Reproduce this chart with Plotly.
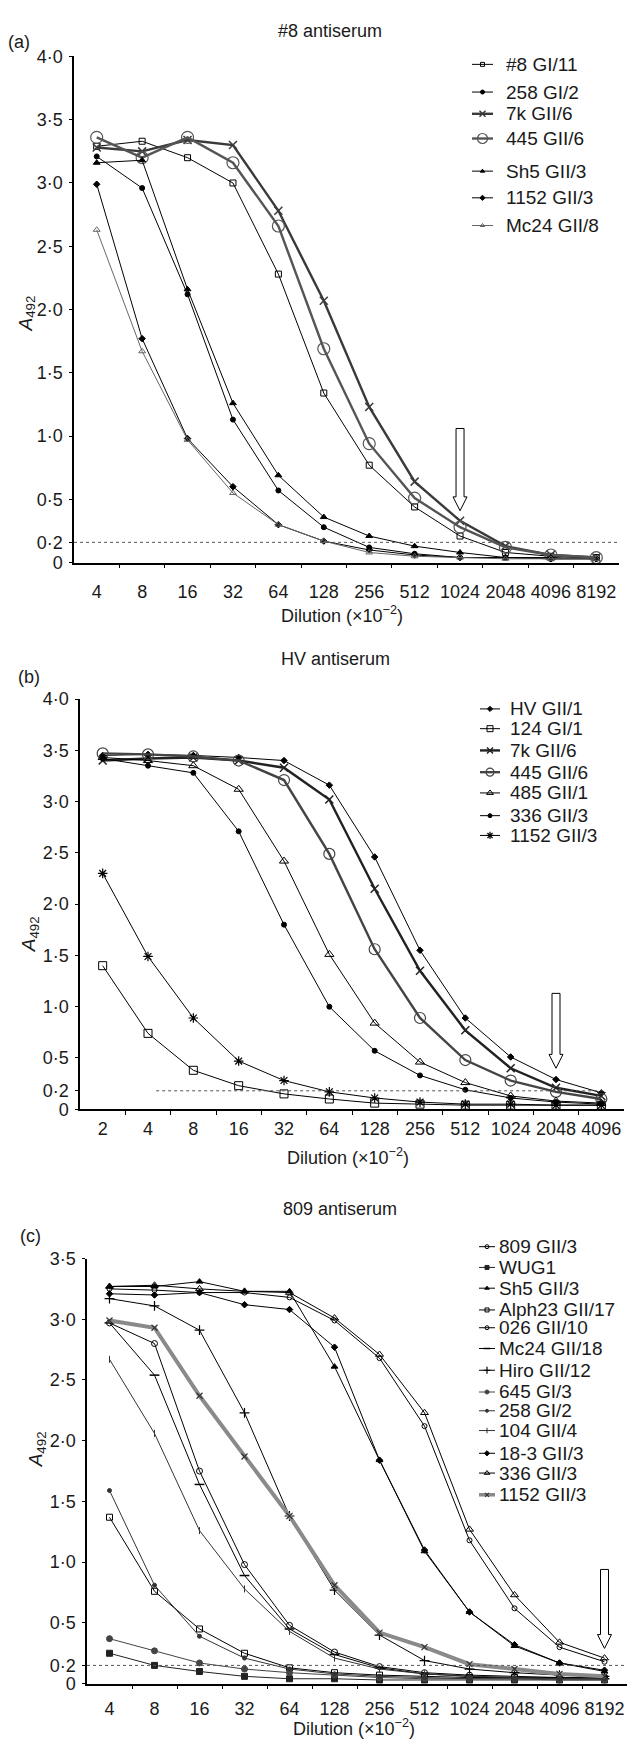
import numpy as np
import plotly.graph_objects as go

W, H = 628, 1747
FONT = "Liberation Sans, Arial, Helvetica, sans-serif"

# ---------------- data ----------------
# (a) #8 antiserum
dil_a = ["4", "8", "16", "32", "64", "128", "256", "512", "1024", "2048", "4096", "8192"]
a_8_GI11 = [3.29, 3.33, 3.20, 3.00, 2.28, 1.34, 0.77, 0.44, 0.21, 0.08, 0.05, 0.04]
a_258_GI2 = [3.21, 2.96, 2.12, 1.13, 0.57, 0.28, 0.12, 0.07, 0.04, 0.04, 0.03, 0.03]
a_7k_GII6 = [3.28, 3.25, 3.34, 3.30, 2.78, 2.07, 1.23, 0.64, 0.33, 0.13, 0.06, 0.04]
a_445_GII6 = [3.36, 3.20, 3.36, 3.16, 2.66, 1.69, 0.94, 0.51, 0.28, 0.12, 0.06, 0.04]
a_Sh5_GII3 = [3.16, 3.18, 2.16, 1.26, 0.69, 0.36, 0.21, 0.13, 0.08, 0.04, 0.04, 0.03]
a_1152_GII3 = [2.99, 1.77, 0.98, 0.60, 0.30, 0.17, 0.10, 0.06, 0.04, 0.04, 0.03, 0.03]
a_Mc24_GII8 = [2.63, 1.67, 0.97, 0.55, 0.30, 0.17, 0.08, 0.05, 0.04, 0.03, 0.03, 0.03]
a_names = ["#8 GI/11", "258 GI/2", "7k GII/6", "445 GII/6", "Sh5 GII/3", "1152 GII/3", "Mc24 GII/8"]
a_values = [a_8_GI11, a_258_GI2, a_7k_GII6, a_445_GII6, a_Sh5_GII3, a_1152_GII3, a_Mc24_GII8]

# (b) HV antiserum
dil_b = ["2", "4", "8", "16", "32", "64", "128", "256", "512", "1024", "2048", "4096"]
b_HV_GII1 = [3.45, 3.46, 3.45, 3.43, 3.40, 3.16, 2.46, 1.55, 0.89, 0.51, 0.29, 0.16]
b_124_GI1 = [1.40, 0.74, 0.38, 0.23, 0.15, 0.10, 0.06, 0.05, 0.04, 0.04, 0.04, 0.04]
b_7k_GII6 = [3.40, 3.42, 3.43, 3.40, 3.33, 3.02, 2.15, 1.35, 0.77, 0.40, 0.21, 0.13]
b_445_GII6 = [3.47, 3.46, 3.44, 3.40, 3.21, 2.49, 1.56, 0.89, 0.48, 0.28, 0.17, 0.10]
b_485_GII1 = [3.43, 3.40, 3.35, 3.12, 2.42, 1.51, 0.84, 0.46, 0.26, 0.13, 0.08, 0.06]
b_336_GII3 = [3.42, 3.35, 3.28, 2.71, 1.80, 1.00, 0.57, 0.33, 0.19, 0.11, 0.07, 0.05]
b_1152_GII3 = [2.30, 1.49, 0.89, 0.47, 0.28, 0.17, 0.11, 0.07, 0.05, 0.05, 0.04, 0.04]
b_names = ["HV GII/1", "124 GI/1", "7k GII/6", "445 GII/6", "485 GII/1", "336 GII/3", "1152 GII/3"]
b_values = [b_HV_GII1, b_124_GI1, b_7k_GII6, b_445_GII6, b_485_GII1, b_336_GII3, b_1152_GII3]

# (c) 809 antiserum
dil_c = ["4", "8", "16", "32", "64", "128", "256", "512", "1024", "2048", "4096", "8192"]
c_809_GII3 = [3.25, 3.24, 3.22, 3.22, 3.18, 2.99, 2.68, 2.12, 1.18, 0.62, 0.30, 0.18]
c_WUG1 = [0.25, 0.15, 0.10, 0.06, 0.04, 0.04, 0.03, 0.03, 0.03, 0.03, 0.03, 0.03]
c_Sh5_GII3 = [3.27, 3.27, 3.31, 3.23, 3.23, 2.61, 1.84, 1.09, 0.59, 0.31, 0.17, 0.10]
c_Alph23_GII17 = [1.37, 0.76, 0.45, 0.25, 0.13, 0.09, 0.07, 0.06, 0.05, 0.05, 0.04, 0.04]
c_026_GII10 = [2.97, 2.80, 1.75, 0.98, 0.48, 0.26, 0.14, 0.09, 0.07, 0.06, 0.05, 0.05]
c_Mc24_GII18 = [2.97, 2.54, 1.64, 0.89, 0.45, 0.24, 0.13, 0.08, 0.06, 0.05, 0.05, 0.04]
c_Hiro_GII12 = [3.17, 3.11, 2.91, 2.23, 1.38, 0.77, 0.40, 0.19, 0.12, 0.09, 0.07, 0.06]
c_645_GI3 = [0.37, 0.27, 0.17, 0.12, 0.09, 0.07, 0.05, 0.04, 0.04, 0.04, 0.03, 0.03]
c_258_GI2 = [1.59, 0.81, 0.39, 0.21, 0.12, 0.08, 0.06, 0.05, 0.04, 0.04, 0.04, 0.04]
c_104_GII4 = [2.67, 2.06, 1.26, 0.78, 0.43, 0.21, 0.12, 0.08, 0.06, 0.05, 0.04, 0.04]
c_18_3_GII3 = [3.21, 3.20, 3.22, 3.12, 3.08, 2.77, 1.84, 1.10, 0.59, 0.32, 0.17, 0.11]
c_336_GII3 = [3.27, 3.28, 3.25, 3.23, 3.22, 3.01, 2.71, 2.23, 1.27, 0.73, 0.34, 0.21]
c_1152_GII3 = [2.99, 2.93, 2.37, 1.87, 1.38, 0.81, 0.42, 0.30, 0.16, 0.12, 0.08, 0.06]
c_names = ["809 GII/3", "WUG1", "Sh5 GII/3", "Alph23 GII/17", "026 GII/10", "Mc24 GII/18",
           "Hiro GII/12", "645 GI/3", "258 GI/2", "104 GII/4", "18-3 GII/3", "336 GII/3", "1152 GII/3"]
c_values = [c_809_GII3, c_WUG1, c_Sh5_GII3, c_Alph23_GII17, c_026_GII10, c_Mc24_GII18,
            c_Hiro_GII12, c_645_GI3, c_258_GI2, c_104_GII4, c_18_3_GII3, c_336_GII3, c_1152_GII3]

# cut-off (as drawn) and end-point arrows: (dilution label, top value, tip value)
cutoff_a, cutoff_b, cutoff_c = 0.16, 0.18, 0.15
arrow_a = ("1024", 1.06, 0.41)
arrow_b = ("2048", 1.13, 0.40)
arrow_c = ("8192", 0.94, 0.29)

# ---------------- styles ----------------
def st(symbol=None, size=6, color="black", width=1.0, dash="solid", mcolor=None, mlw=1.0, lsize=None):
    return dict(symbol=symbol, size=size, color=color, width=width, dash=dash,
                mcolor=mcolor or color, mlw=mlw, lsize=lsize or max(3, round(size * 0.75)))

a_styles = [st("square-open", 6), st("circle", 5), st("x-thin-open", 8, "#3a3a3a", 2.4, mlw=1.5),
            st("circle-open", 12, "#555555", 2.4, mlw=1.2, lsize=10), st("triangle-up", 6), st("diamond", 5),
            st("triangle-up-open", 6, "#666666", 1.0)]
b_styles = [st("diamond", 5), st("square-open", 8), st("x-thin-open", 8, "#222222", 2.4, mlw=1.5),
            st("circle-open", 11, "#444444", 2.4, mlw=1.2, lsize=8), st("triangle-up-open", 8), st("circle", 5),
            st("asterisk-open", 8, mlw=1.2)]
c_styles = [st("circle-open", 5), st("square", 6, "#222222"), st("triangle-up", 6),
            st("square-open", 6), st("circle-open", 6), st("line-ew-open", 7, mlw=1.5),
            st("cross-thin-open", 7, mlw=1.2), st("circle", 6, "#444444"), st("circle", 4, "#333333"),
            st("line-ns-open", 5, "#333333", 1.0, mlw=1.0), st("diamond", 5), st("triangle-up-open", 7),
            st("x-thin-open", 6, "#8a8a8a", 4.0, mcolor="#333333", mlw=1.2)]

# ---------------- layout geometry (pixels) ----------------
panels = [
    dict(ax="", labels=dil_a, names=a_names, values=a_values, styles=a_styles,
         x0=74, x1=619, yzero=559, ytop=47, ymax=4.0, cutoff=cutoff_a, cut_span=(-0.5, 11.5),
         arrow=arrow_a, title="#8 antiserum", title_xy=(330, 21), tag="(a)", tag_xy=(19, 32),
         xlab_xy=(342, 612), ylab_xy=(27, 307), standoff=12,
         leg=dict(x0=472, x1=493, tx=504, fs=19, ys=[55, 83, 105, 130, 163, 190, 218])),
    dict(ax="2", labels=dil_b, names=b_names, values=b_values, styles=b_styles,
         x0=80, x1=624, yzero=1112, ytop=697, ymax=4.0, cutoff=cutoff_b, cut_span=(1.18, 11.06),
         arrow=arrow_b, title="HV antiserum", title_xy=(335, 657), tag="(b)", tag_xy=(29, 675),
         xlab_xy=(348, 1160), ylab_xy=(30, 935), standoff=2,
         leg=dict(x0=480, x1=500, tx=508, fs=19, ys=[707, 727, 749, 771, 792, 815, 835])),
    dict(ax="3", labels=dil_c, names=c_names, values=c_values, styles=c_styles,
         x0=87, x1=627, yzero=1693, ytop=1263, ymax=3.5, cutoff=cutoff_c, cut_span=(-0.5, 11.5),
         arrow=arrow_c, title="809 antiserum", title_xy=(340, 1213), tag="(c)", tag_xy=(30, 1240),
         xlab_xy=(354, 1737), ylab_xy=(37, 1456), standoff=8,
         leg=dict(x0=479, x1=495, tx=497, fs=19, ys=[1251, 1272, 1293, 1315, 1333, 1354, 1376, 1398,
                                                     1417, 1437, 1460, 1480, 1502])),
]

def px(x):
    return x / W

def py(y):
    return 1 - y / H

fig = go.Figure()
annotations = []
shapes = []
layout_axes = {}
TXT = dict(family=FONT, size=18, color="#1a1a1a")

for p in panels:
    xa, ya = "x" + p["ax"], "y" + p["ax"]
    n = len(p["labels"])
    idx = np.arange(n)
    for name, vals, s in zip(p["names"], p["values"], p["styles"]):
        fig.add_trace(go.Scatter(
            x=idx, y=vals, name=name, mode="lines+markers", xaxis=xa, yaxis=ya, showlegend=False,
            line=dict(color=s["color"], width=s["width"], dash=s["dash"]),
            marker=dict(symbol=s["symbol"], size=s["size"], color=s["mcolor"],
                        line=dict(color=s["mcolor"], width=s["mlw"])),
            cliponaxis=False))

    yticks = [0, p["cutoff"]] + list(np.arange(0.5, p["ymax"] + 0.01, 0.5))
    ytext = ["0", "0·2"] + [f"{v:.1f}".replace(".", "·") for v in yticks[2:]]
    key = p["ax"]
    layout_axes["xaxis" + key] = dict(
        domain=[px(p["x0"]), px(p["x1"])], range=[-0.5, n - 0.5], anchor=ya,
        tickmode="array", tickvals=idx, ticktext=p["labels"], ticks="",
        showline=True, linecolor="black", linewidth=1.5, showgrid=False, zeroline=False,
        ticklabelstandoff=p["standoff"],
        minor=dict(tickmode="array", tickvals=list(idx[:-1] + 0.5), ticks="outside",
                   ticklen=4, tickcolor="black", tickwidth=1, showgrid=False),
        tickfont=TXT, fixedrange=True)
    layout_axes["yaxis" + key] = dict(
        domain=[py(p["yzero"]), py(p["ytop"])], range=[0, p["ymax"]], anchor=xa,
        tickmode="array", tickvals=yticks, ticktext=ytext, ticks="outside", ticklen=3,
        tickcolor="black", showline=True, linecolor="black", linewidth=1.5,
        showgrid=False, zeroline=False, ticklabelstandoff=3,
        tickfont=TXT, fixedrange=True)

    # dotted cut-off line
    shapes.append(dict(type="line", xref=xa, yref=ya, x0=p["cut_span"][0], x1=p["cut_span"][1],
                       y0=p["cutoff"], y1=p["cutoff"], line=dict(color="#555555", width=1, dash="dot")))

    # hollow down arrow marking the end-point
    lab, ytop_v, ytip_v = p["arrow"]
    xc = p["labels"].index(lab)
    ux = (p["x1"] - p["x0"]) / n
    uy = (p["yzero"] - p["ytop"]) / p["ymax"]
    sw, hw, hl = 4 / ux, 7 / ux, 14 / uy
    neck = ytip_v + hl
    path = (f"M {xc - sw} {ytop_v} L {xc + sw} {ytop_v} L {xc + sw} {neck} L {xc + hw} {neck} "
            f"L {xc} {ytip_v} L {xc - hw} {neck} L {xc - sw} {neck} Z")
    shapes.append(dict(type="path", xref=xa, yref=ya, path=path, fillcolor="white",
                       line=dict(color="black", width=1)))

    # texts
    for text, (tx, ty), kw in [
        (p["title"], p["title_xy"], {}),
        (p["tag"], p["tag_xy"], {}),
        ("Dilution (×10<sup>−2</sup>)", p["xlab_xy"], {}),
        ("<i>A</i><sub>492</sub>", p["ylab_xy"], dict(textangle=-90)),
    ]:
        annotations.append(dict(text=text, x=px(tx), y=py(ty), xref="paper", yref="paper",
                                showarrow=False, xanchor="center", yanchor="middle",
                                font=dict(family=FONT, size=19 if kw else 18, color="#1a1a1a"), **kw))

    # custom legend: keys drawn on a full-page overlay axis, labels as annotations
    lg = p["leg"]
    for name, s, yc in zip(p["names"], p["styles"], lg["ys"]):
        xm = (lg["x0"] + lg["x1"]) / 2
        fig.add_trace(go.Scatter(
            x=[lg["x0"], xm, lg["x1"]], y=[yc, yc, yc], mode="lines+markers",
            xaxis="x4", yaxis="y4", showlegend=False, hoverinfo="skip",
            line=dict(color=s["color"], width=min(s["width"], 3.5), dash=s["dash"]),
            marker=dict(symbol=s["symbol"], size=s["lsize"], color=s["mcolor"],
                        opacity=[0, 1, 0], line=dict(color=s["mcolor"], width=s["mlw"]))))
        annotations.append(dict(text=name, x=px(lg["tx"]), y=py(yc), xref="paper", yref="paper",
                                showarrow=False, xanchor="left", yanchor="middle",
                                font=dict(family=FONT, size=lg["fs"], color="#1a1a1a")))

layout_axes["xaxis4"] = dict(domain=[0, 1], range=[0, W], visible=False, anchor="y4", fixedrange=True)
layout_axes["yaxis4"] = dict(domain=[0, 1], range=[H, 0], visible=False, anchor="x4", fixedrange=True)

fig.update_layout(
    width=W, height=H, margin=dict(l=0, r=0, t=0, b=0),
    paper_bgcolor="white", plot_bgcolor="rgba(0,0,0,0)",
    font=dict(family=FONT, size=18, color="#1a1a1a"),
    annotations=annotations, shapes=shapes, showlegend=False,
    **layout_axes)

fig.write_html("out.html", config={"displayModeBar": False},
               post_script="document.body.style.margin='0';document.body.style.overflow='hidden';")
